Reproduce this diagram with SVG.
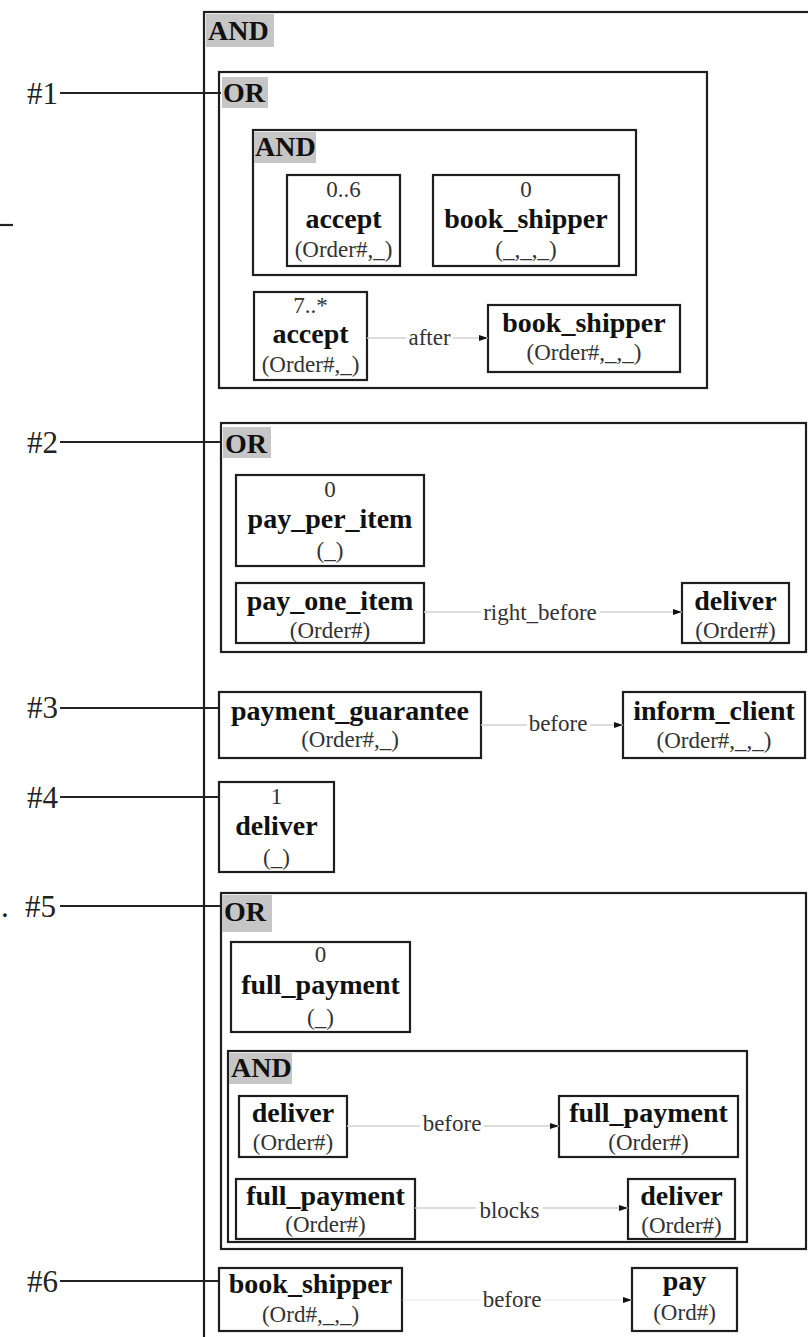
<svg xmlns="http://www.w3.org/2000/svg" width="808" height="1337" viewBox="0 0 808 1337">
  <defs>
    <style>
      .box{fill:#fff;stroke:#1e1e1e;stroke-width:2.2}
      .grp{fill:none;stroke:#1e1e1e;stroke-width:2.2}
      .tag{fill:#c6c6c6}
      .op{font-family:"Liberation Serif",serif;font-weight:bold;font-size:28px;fill:#111}
      .nm{font-family:"Liberation Serif",serif;font-weight:bold;font-size:28px;fill:#111;text-anchor:middle}
      .sm{font-family:"Liberation Serif",serif;font-size:23px;fill:#333;text-anchor:middle}
      .hash{font-family:"Liberation Serif",serif;font-size:31px;fill:#222;text-anchor:end}
      .dot{font-family:"Liberation Serif",serif;font-size:31px;fill:#222}
      .lead{stroke:#222;stroke-width:2.2;fill:none}
      .edge{stroke:#d2d2d2;stroke-width:1.3;fill:none}
      .elbl{font-family:"Liberation Serif",serif;font-size:23px;fill:#333;text-anchor:middle}
      .lblbg{fill:#fff}
    </style>
    <marker id="arrow" markerUnits="userSpaceOnUse" markerWidth="10" markerHeight="8" refX="9" refY="4" orient="auto">
      <path d="M0,1 L9,4 L0,7 z" fill="#111"/>
    </marker>
  </defs>

  <!-- outer AND container -->
  <g id="and-root">
    <rect class="grp" x="204" y="12" width="720" height="1400"/>
    <rect class="tag" x="206" y="14" width="68" height="33"/>
    <text class="op" x="208" y="40">AND</text>
  </g>

  <!-- leader lines for the numbered constraints -->
  <g id="leaders">
    <line class="lead" x1="0" y1="225" x2="13" y2="225"/>
    <line class="lead" x1="60" y1="93" x2="221" y2="93"/>
    <line class="lead" x1="60" y1="442" x2="222" y2="442"/>
    <line class="lead" x1="60" y1="708" x2="219" y2="708"/>
    <line class="lead" x1="60" y1="797" x2="219" y2="797"/>
    <line class="lead" x1="60" y1="906" x2="222" y2="906"/>
    <line class="lead" x1="60" y1="1281" x2="220" y2="1281"/>
    <text class="hash" x="58" y="104">#1</text>
    <text class="hash" x="58" y="453">#2</text>
    <text class="hash" x="58" y="718">#3</text>
    <text class="hash" x="58" y="808">#4</text>
    <text class="dot" x="1" y="917">.</text>
    <text class="hash" x="56" y="917">#5</text>
    <text class="hash" x="58" y="1292">#6</text>
  </g>

  <!-- #1 -->
  <g id="or1">
    <rect class="grp" x="219" y="72" width="488" height="316"/>
    <rect class="tag" x="222" y="77" width="46" height="31"/>
    <text class="op" x="223" y="102">OR</text>
  </g>
  <g id="and1">
    <rect class="grp" x="253" y="130" width="383" height="145"/>
    <rect class="tag" x="254" y="132" width="62" height="31"/>
    <text class="op" x="255" y="156">AND</text>
  </g>
  <g id="n-accept-06">
    <rect class="box" x="287" y="175" width="113" height="91"/>
    <text class="sm" x="343.5" y="197">0..6</text>
    <text class="nm" x="343.5" y="228">accept</text>
    <text class="sm" x="343.5" y="257">(Order#,_)</text>
  </g>
  <g id="n-book-0">
    <rect class="box" x="433" y="175" width="186" height="91"/>
    <text class="sm" x="526" y="197">0</text>
    <text class="nm" x="526" y="228">book_shipper</text>
    <text class="sm" x="526" y="257">(_,_,_)</text>
  </g>
  <g id="n-accept-7">
    <rect class="box" x="254" y="292" width="113" height="88"/>
    <text class="sm" x="310.5" y="313">7..*</text>
    <text class="nm" x="310.5" y="343">accept</text>
    <text class="sm" x="310.5" y="372">(Order#,_)</text>
  </g>
  <g id="n-book-1">
    <rect class="box" x="488" y="305" width="192" height="67"/>
    <text class="nm" x="584" y="332">book_shipper</text>
    <text class="sm" x="584" y="360">(Order#,_,_)</text>
  </g>

  <!-- #2 -->
  <g id="or2">
    <rect class="grp" x="221" y="423" width="585" height="229"/>
    <rect class="tag" x="223" y="427" width="48" height="31"/>
    <text class="op" x="225" y="453">OR</text>
  </g>
  <g id="n-pay-per-item">
    <rect class="box" x="236" y="475" width="188" height="91"/>
    <text class="sm" x="330" y="497">0</text>
    <text class="nm" x="330" y="528">pay_per_item</text>
    <text class="sm" x="330" y="558">(_)</text>
  </g>
  <g id="n-pay-one-item">
    <rect class="box" x="236" y="583" width="188" height="60"/>
    <text class="nm" x="330" y="610">pay_one_item</text>
    <text class="sm" x="330" y="638">(Order#)</text>
  </g>
  <g id="n-deliver-2">
    <rect class="box" x="682" y="583" width="107" height="60"/>
    <text class="nm" x="735.5" y="610">deliver</text>
    <text class="sm" x="735.5" y="638">(Order#)</text>
  </g>

  <!-- #3 -->
  <g id="n-payment-guarantee">
    <rect class="box" x="219" y="692" width="262" height="66"/>
    <text class="nm" x="350" y="720">payment_guarantee</text>
    <text class="sm" x="350" y="747">(Order#,_)</text>
  </g>
  <g id="n-inform-client">
    <rect class="box" x="623" y="692" width="182" height="66"/>
    <text class="nm" x="714" y="720">inform_client</text>
    <text class="sm" x="714" y="748">(Order#,_,_)</text>
  </g>

  <!-- #4 -->
  <g id="n-deliver-4">
    <rect class="box" x="219" y="782" width="115" height="90"/>
    <text class="sm" x="276.5" y="804">1</text>
    <text class="nm" x="276.5" y="835">deliver</text>
    <text class="sm" x="276.5" y="865">(_)</text>
  </g>

  <!-- #5 -->
  <g id="or5">
    <rect class="grp" x="221" y="893" width="585" height="356"/>
    <rect class="tag" x="222" y="895" width="50" height="37"/>
    <text class="op" x="224" y="921">OR</text>
  </g>
  <g id="n-full-payment-0">
    <rect class="box" x="231" y="942" width="179" height="90"/>
    <text class="sm" x="320.5" y="962">0</text>
    <text class="nm" x="320.5" y="994">full_payment</text>
    <text class="sm" x="320.5" y="1025">(_)</text>
  </g>
  <g id="and5">
    <rect class="grp" x="228" y="1051" width="519" height="191"/>
    <rect class="tag" x="229" y="1053" width="63" height="31"/>
    <text class="op" x="231" y="1077">AND</text>
  </g>
  <g id="n-deliver-5a">
    <rect class="box" x="239" y="1096" width="108" height="61"/>
    <text class="nm" x="293" y="1122">deliver</text>
    <text class="sm" x="293" y="1150">(Order#)</text>
  </g>
  <g id="n-full-payment-5a">
    <rect class="box" x="559" y="1096" width="179" height="61"/>
    <text class="nm" x="648.5" y="1122">full_payment</text>
    <text class="sm" x="648.5" y="1150">(Order#)</text>
  </g>
  <g id="n-full-payment-5b">
    <rect class="box" x="236" y="1179" width="179" height="60"/>
    <text class="nm" x="325.5" y="1205">full_payment</text>
    <text class="sm" x="325.5" y="1232">(Order#)</text>
  </g>
  <g id="n-deliver-5b">
    <rect class="box" x="628" y="1179" width="107" height="60"/>
    <text class="nm" x="681.5" y="1205">deliver</text>
    <text class="sm" x="681.5" y="1233">(Order#)</text>
  </g>

  <!-- #6 -->
  <g id="n-book-6">
    <rect class="box" x="219" y="1268" width="183" height="63"/>
    <text class="nm" x="310.5" y="1293">book_shipper</text>
    <text class="sm" x="310.5" y="1322">(Ord#,_,_)</text>
  </g>
  <g id="n-pay-6">
    <rect class="box" x="632" y="1268" width="105" height="63"/>
    <text class="nm" x="684.5" y="1290">pay</text>
    <text class="sm" x="684.5" y="1320">(Ord#)</text>
  </g>

  <!-- connectors -->
  <g id="edges">
    <line class="edge" x1="367" y1="338" x2="488" y2="338" marker-end="url(#arrow)"/>
    <rect class="lblbg" x="406" y="326" width="47" height="26"/>
    <text class="elbl" x="429.5" y="345">after</text>

    <line class="edge" x1="424" y1="612" x2="682" y2="612" marker-end="url(#arrow)"/>
    <rect class="lblbg" x="481" y="600" width="119" height="26"/>
    <text class="elbl" x="540" y="620">right_before</text>

    <line class="edge" x1="481" y1="725" x2="623" y2="725" marker-end="url(#arrow)"/>
    <rect class="lblbg" x="527" y="712" width="63" height="26"/>
    <text class="elbl" x="558" y="731">before</text>

    <line class="edge" x1="347" y1="1126" x2="559" y2="1126" marker-end="url(#arrow)"/>
    <rect class="lblbg" x="420" y="1113" width="64" height="26"/>
    <text class="elbl" x="452" y="1131">before</text>

    <line class="edge" x1="415" y1="1208" x2="628" y2="1208" marker-end="url(#arrow)"/>
    <rect class="lblbg" x="476" y="1198" width="67" height="28"/>
    <text class="elbl" x="509.5" y="1218">blocks</text>

    <line class="edge" x1="402" y1="1300" x2="632" y2="1300" stroke-opacity="0.35" marker-end="url(#arrow)"/>
    <rect class="lblbg" x="481" y="1288" width="63" height="26"/>
    <text class="elbl" x="512" y="1307">before</text>
  </g>
</svg>
